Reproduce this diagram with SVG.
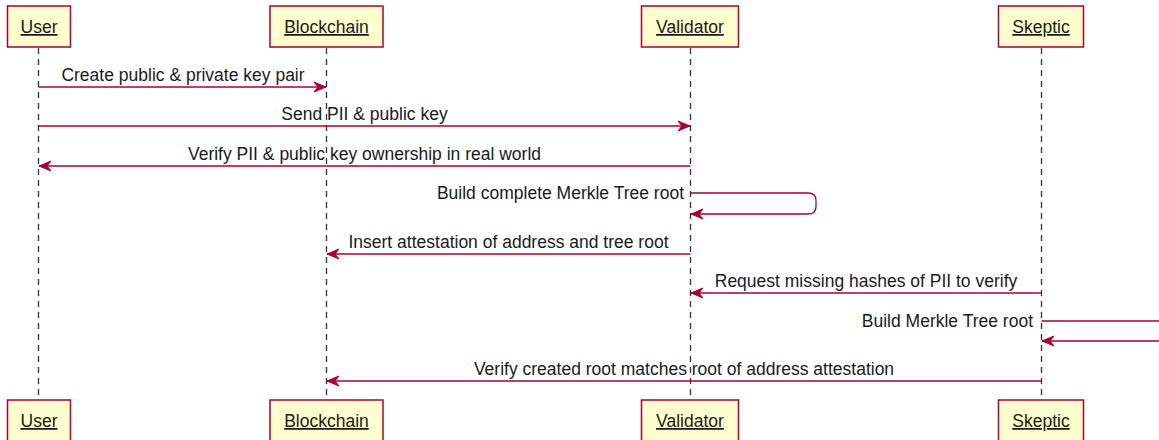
<svg xmlns="http://www.w3.org/2000/svg" width="1159" height="440" viewBox="0 0 1159 440">
<style>
.box{fill:#FEFECE;stroke:#A80036;stroke-width:1.5}
.pt{font-family:"Liberation Sans",Arial,sans-serif;font-size:17.5px;fill:#1a1a1a;text-anchor:middle;text-decoration:underline}
.life{stroke:#333;stroke-width:1.3;stroke-dasharray:6,5;fill:none}
.msg{stroke:#A80036;stroke-width:1.3;fill:none}
.mt{font-family:"Liberation Sans",Arial,sans-serif;font-size:17.5px;fill:#1a1a1a;text-anchor:middle}
.st{font-family:"Liberation Sans",Arial,sans-serif;font-size:17.5px;fill:#1a1a1a;text-anchor:end}
</style>
<defs>
<marker id="ah" markerWidth="14" markerHeight="12" refX="13" refY="6" orient="auto" markerUnits="userSpaceOnUse">
<path d="M1,1 L13,6 L1,11 L5,6 Z" fill="#A80036" stroke="#A80036" stroke-width="1"/>
</marker>
</defs>
<rect width="1159" height="440" fill="#fff"/>
<g id="lifelines">
<line class="life" x1="38.5" y1="48" x2="38.5" y2="400"/>
<line class="life" x1="326.5" y1="48" x2="326.5" y2="400"/>
<line class="life" x1="690.5" y1="48" x2="690.5" y2="400"/>
<line class="life" x1="1041.5" y1="48" x2="1041.5" y2="400"/>
</g>
<g id="user">
<rect class="box" x="7.5" y="6" width="63" height="41"/>
<text class="pt" x="39" y="33">User</text>
<rect class="box" x="7.5" y="400" width="63" height="41"/>
<text class="pt" x="39" y="427">User</text>
</g>
<g id="blockchain">
<rect class="box" x="270" y="6" width="113" height="41"/>
<text class="pt" x="326.5" y="33">Blockchain</text>
<rect class="box" x="270" y="400" width="113" height="41"/>
<text class="pt" x="326.5" y="427">Blockchain</text>
</g>
<g id="validator">
<rect class="box" x="641.5" y="6" width="97" height="41"/>
<text class="pt" x="690" y="33">Validator</text>
<rect class="box" x="641.5" y="400" width="97" height="41"/>
<text class="pt" x="690" y="427">Validator</text>
</g>
<g id="skeptic">
<rect class="box" x="998.5" y="6" width="85" height="41"/>
<text class="pt" x="1041" y="33">Skeptic</text>
<rect class="box" x="998.5" y="400" width="85" height="41"/>
<text class="pt" x="1041" y="427">Skeptic</text>
</g>
<g id="connectors">
<line class="msg" x1="38.5" y1="87" x2="326" y2="87" marker-end="url(#ah)"/>
<text class="mt" x="183" y="81">Create public &amp; private key pair</text>
<line class="msg" x1="38.5" y1="126" x2="690" y2="126" marker-end="url(#ah)"/>
<text class="mt" x="364.5" y="120">Send PII &amp; public key</text>
<line class="msg" x1="690.5" y1="166" x2="39" y2="166" marker-end="url(#ah)"/>
<text class="mt" x="364.5" y="160">Verify PII &amp; public key ownership in real world</text>
<path class="msg" d="M690.5,193 H808 Q816,193 816,200.5 V206.5 Q816,214 808,214 H691" marker-end="url(#ah)"/>
<text class="st" x="684" y="199">Build complete Merkle Tree root</text>
<line class="msg" x1="690.5" y1="254" x2="327" y2="254" marker-end="url(#ah)"/>
<text class="mt" x="508.5" y="248">Insert attestation of address and tree root</text>
<line class="msg" x1="1041.5" y1="293" x2="691" y2="293" marker-end="url(#ah)"/>
<text class="mt" x="866" y="287">Request missing hashes of PII to verify</text>
<path class="msg" d="M1041.5,321 H1160 M1160,341 H1042" marker-end="url(#ah)"/>
<text class="st" x="1033" y="327">Build Merkle Tree root</text>
<line class="msg" x1="1041.5" y1="381" x2="327" y2="381" marker-end="url(#ah)"/>
<text class="mt" x="684" y="375">Verify created root matches root of address attestation</text>
</g>
</svg>
